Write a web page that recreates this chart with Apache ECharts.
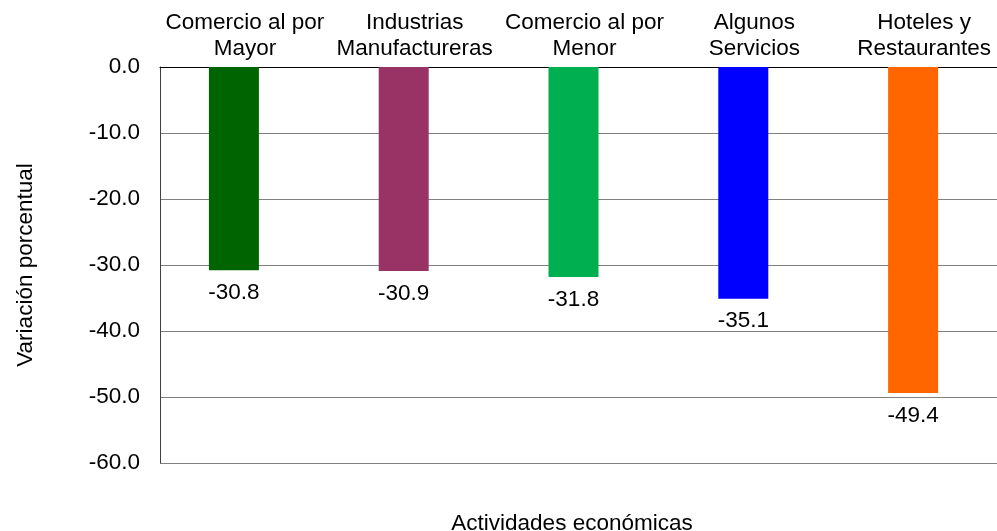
<!DOCTYPE html>
<html>
<head>
<meta charset="utf-8">
<script src="https://cdn.jsdelivr.net/npm/echarts@6/dist/echarts.min.js"></script>
<style>
  html, body { margin: 0; padding: 0; background: #fff; }
  #chart { width: 997px; height: 531px; }
</style>
</head>
<body>
<div id="chart"></div>
<script>
// datos
const categorias = [
  'Comercio al por\nMayor',
  'Industrias\nManufactureras',
  'Comercio al por\nMenor',
  'Algunos\nServicios',
  'Hoteles y\nRestaurantes'
]
const variacion = [-30.8, -30.9, -31.8, -35.1, -49.4]
const colores = ['#006400', '#993366', '#00B050', '#0000FF', '#FF6600']
const ejeY = { min: -60, max: 0, interval: 10 }

const fuente = 'Liberation Sans, Arial, sans-serif'
const tam = 22.5

const chart = echarts.init(document.getElementById('chart'))

const option = {
  backgroundColor: '#fff',
  animation: false,
  title: {
    text: 'Actividades económicas',
    left: 567,
    top: 507,
    textAlign: 'center',
    textStyle: { fontFamily: fuente, fontSize: tam, fontWeight: 'normal', color: '#000' }
  },
  grid: {
    left: 160,
    right: -12,
    top: 67,
    bottom: 68,
    outerBoundsMode: 'none'
  },
  xAxis: {
    type: 'category',
    position: 'top',
    data: categorias,
    axisLine: { lineStyle: { color: '#000', width: 1 } },
    axisTick: { show: false },
    axisLabel: {
      fontFamily: fuente,
      fontSize: tam,
      color: '#000',
      lineHeight: 26,
      margin: 5,
      interval: 0
    }
  },
  yAxis: {
    type: 'value',
    min: ejeY.min,
    max: ejeY.max,
    interval: ejeY.interval,
    name: 'Variación porcentual',
    nameLocation: 'middle',
    nameGap: 123,
    nameTextStyle: { fontFamily: fuente, fontSize: tam, color: '#000' },
    axisLine: { show: true, lineStyle: { color: '#404040', width: 1 } },
    axisTick: { show: false },
    axisLabel: {
      fontFamily: fuente,
      fontSize: tam,
      color: '#000',
      margin: 20,
      formatter: v => v.toFixed(1)
    },
    splitLine: { lineStyle: { color: '#808080', width: 1 } }
  },
  series: [
    {
      type: 'bar',
      barWidth: 50,
      barGap: '0%',
      data: variacion.map((v, i) => ({ value: v, itemStyle: { color: colores[i] } })),
      label: {
        show: true,
        position: 'bottom',
        distance: 11,
        fontFamily: fuente,
        fontSize: tam,
        color: '#000',
        formatter: p => p.value.toFixed(1)
      }
    },
    {
      // serie vacía para desplazar las barras como en el original
      type: 'bar',
      barWidth: 22,
      silent: true,
      data: categorias.map(() => null)
    }
  ]
}

chart.setOption(option)
</script>
</body>
</html>
